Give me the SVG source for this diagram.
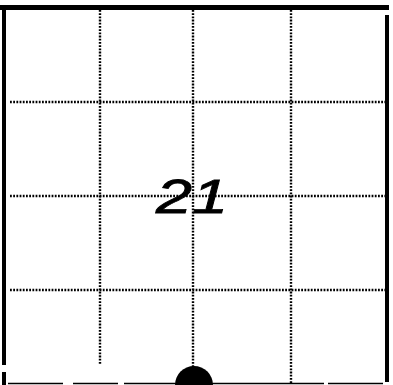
<svg xmlns="http://www.w3.org/2000/svg" width="393" height="385" viewBox="0 0 393 385">
<style>
.border{fill:#000}
.dot{stroke:#000;stroke-width:2.4;stroke-dasharray:1.8 1.4;fill:none}
.num{font-family:"Liberation Sans",Arial,sans-serif;font-style:italic;font-size:48px;fill:#000}
</style>
<rect width="393" height="385" fill="#fff"/>
<g id="frame">
<rect class="border" x="0" y="5" width="389" height="5"/>
<rect class="border" x="2" y="10" width="4" height="355"/>
<rect class="border" x="2" y="372" width="4" height="13"/>
<rect class="border" x="385" y="15" width="4" height="367"/>
<line x1="8" y1="383.5" x2="385" y2="383.5" stroke="#000" stroke-width="1.5" stroke-dasharray="55 10 45 6 200 4"/>
</g>
<g id="grid">
<line class="dot" x1="100" y1="10" x2="100" y2="365"/>
<line class="dot" x1="193" y1="10" x2="193" y2="368"/>
<line class="dot" x1="291" y1="10" x2="291" y2="383"/>
<line class="dot" x1="10" y1="102" x2="385" y2="102"/>
<line class="dot" x1="10" y1="196" x2="385" y2="196"/>
<line class="dot" x1="10" y1="290" x2="385" y2="290"/>
</g>
<g id="label">
<text class="num" x="156" y="213" textLength="72" lengthAdjust="spacingAndGlyphs" stroke="#000" stroke-width="0.8">21</text>
</g>
<g id="marker">
<circle cx="194" cy="385" r="19" fill="#000"/>
</g>
</svg>
